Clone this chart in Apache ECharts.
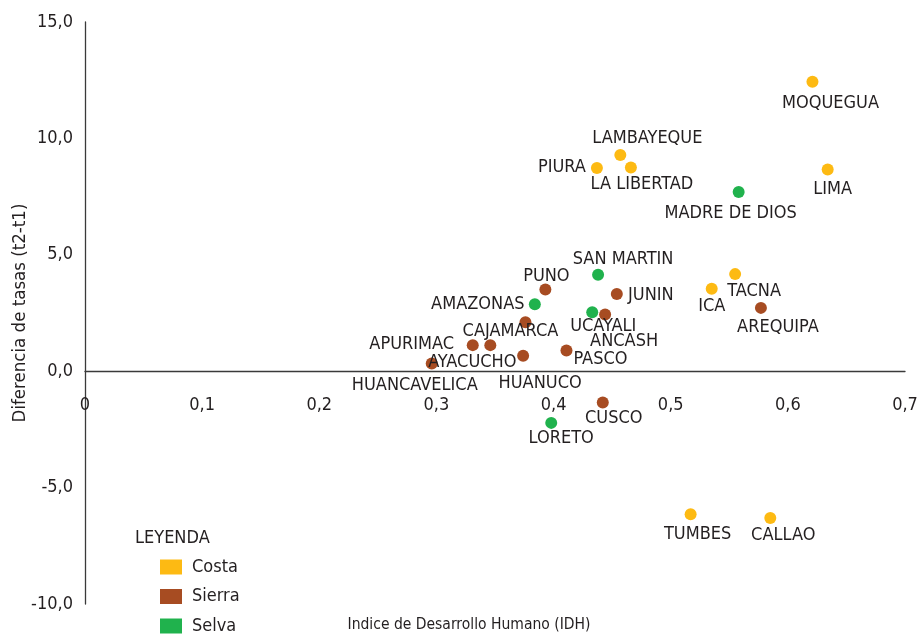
<!DOCTYPE html>
<html>
<head>
<meta charset="utf-8">
<script src="https://cdn.jsdelivr.net/npm/echarts@6/dist/echarts.min.js"></script>
<style>
  html, body { margin: 0; padding: 0; background: #fff; }
  #chart { width: 918px; height: 637px; }
</style>
</head>
<body>
<div id="chart"></div>
<script>
// datos por departamento (IDH vs diferencia de tasas)
var regionNames = ['MOQUEGUA', 'LAMBAYEQUE', 'PIURA', 'LA LIBERTAD', 'LIMA', 'TACNA', 'ICA', 'TUMBES', 'CALLAO',
  'AREQUIPA', 'PUNO', 'JUNIN', 'ANCASH', 'CAJAMARCA', 'APURIMAC', 'AYACUCHO', 'HUANUCO', 'PASCO', 'HUANCAVELICA', 'CUSCO',
  'MADRE DE DIOS', 'SAN MARTIN', 'AMAZONAS', 'UCAYALI', 'LORETO'];
var regionGroup = ['Costa', 'Costa', 'Costa', 'Costa', 'Costa', 'Costa', 'Costa', 'Costa', 'Costa',
  'Sierra', 'Sierra', 'Sierra', 'Sierra', 'Sierra', 'Sierra', 'Sierra', 'Sierra', 'Sierra', 'Sierra', 'Sierra',
  'Selva', 'Selva', 'Selva', 'Selva', 'Selva'];
var idhValues = [0.621, 0.457, 0.437, 0.466, 0.634, 0.555, 0.535, 0.517, 0.585,
  0.577, 0.393, 0.454, 0.444, 0.376, 0.331, 0.346, 0.374, 0.411, 0.296, 0.442,
  0.558, 0.438, 0.384, 0.433, 0.398];
var difValues = [12.43, 9.29, 8.73, 8.75, 8.66, 4.17, 3.54, -6.14, -6.31,
  2.72, 3.51, 3.32, 2.44, 2.10, 1.12, 1.12, 0.66, 0.89, 0.33, -1.34,
  7.70, 4.14, 2.88, 2.53, -2.22];

var groups = ['Costa', 'Sierra', 'Selva'];
var groupColors = { 'Costa': '#fdba13', 'Sierra': '#a74c22', 'Selva': '#20b24d' };

// desplazamiento de cada etiqueta respecto al punto (px)
var labelOffset = {
  'MOQUEGUA': [18, 21], 'LAMBAYEQUE': [27, -17], 'PIURA': [-35, -1], 'LA LIBERTAD': [11, 17],
  'LIMA': [5, 20], 'TACNA': [19, 17], 'ICA': [0, 18], 'TUMBES': [7, 20], 'CALLAO': [13, 17],
  'AREQUIPA': [17, 19], 'PUNO': [1, -13], 'JUNIN': [34, 1], 'ANCASH': [19, 27],
  'CAJAMARCA': [-15, 9], 'APURIMAC': [-61, -1], 'AYACUCHO': [-18, 17], 'HUANUCO': [17, 27],
  'PASCO': [34, 9], 'HUANCAVELICA': [-17, 22], 'CUSCO': [11, 16],
  'MADRE DE DIOS': [-8, 21], 'SAN MARTIN': [25, -15], 'AMAZONAS': [-57, 0], 'UCAYALI': [11, 14], 'LORETO': [10, 15]
};

var fontFam = "'Liberation Sans Narrow', 'DejaVu Sans Condensed', sans-serif";
var txtColor = '#231f20';

function fmtComma(v, dec) {
  return v.toFixed(dec).replace('.', ',');
}

var series = groups.map(function (g) {
  var pts = [];
  for (var i = 0; i < regionNames.length; i++) {
    if (regionGroup[i] !== g) continue;
    pts.push({
      name: regionNames[i],
      value: [idhValues[i], difValues[i]],
      label: { offset: labelOffset[regionNames[i]] }
    });
  }
  return {
    name: g,
    type: 'scatter',
    symbolSize: 12,
    itemStyle: { color: groupColors[g], opacity: 1 },
    label: {
      show: true,
      position: 'inside',
      formatter: '{b}',
      color: txtColor,
      fontFamily: fontFam,
      fontSize: 18
    },
    emphasis: { disabled: true },
    data: pts
  };
});

var gridTop = 22, gridBottom = 33, yMin = -10, yMax = 15;
var plotH = 637 - gridTop - gridBottom;
// eje X dibujado sobre y=0
var xAxisOffset = -plotH * (0 - yMin) / (yMax - yMin);

var chart = echarts.init(document.getElementById('chart'));
chart.setOption({
  animation: false,
  textStyle: { fontFamily: fontFam },
  grid: { left: 85, right: 13, top: gridTop, bottom: gridBottom, containLabel: false, outerBoundsMode: 'none' },
  xAxis: {
    type: 'value',
    min: 0,
    max: 0.7,
    interval: 0.1,
    offset: xAxisOffset,
    splitLine: { show: false },
    axisTick: { show: false },
    axisLine: { onZero: false, lineStyle: { color: '#3a3a3a', width: 1.3 } },
    axisLabel: {
      margin: 25,
      color: txtColor,
      fontSize: 18,
      fontFamily: fontFam,
      formatter: function (v) { return v === 0 ? '0' : fmtComma(v, 1); }
    }
  },
  yAxis: {
    type: 'value',
    min: yMin,
    max: yMax,
    interval: 5,
    splitLine: { show: false },
    axisTick: { show: false },
    axisLine: { show: true, onZero: false, lineStyle: { color: '#3a3a3a', width: 1.3 } },
    axisLabel: {
      margin: 12,
      color: txtColor,
      fontSize: 18,
      fontFamily: fontFam,
      formatter: function (v) { return fmtComma(v, 1); }
    }
  },
  legend: {
    data: groups,
    orient: 'vertical',
    left: 160,
    top: 558,
    height: 100,
    padding: 0,
    icon: 'rect',
    itemWidth: 22,
    itemHeight: 15,
    itemGap: 11.5,
    selectedMode: false,
    textStyle: { color: txtColor, fontSize: 18, fontFamily: fontFam, padding: [0, 0, 0, 5] }
  },
  graphic: [
    {
      type: 'text', left: 135, top: 529,
      style: { text: 'LEYENDA', fill: txtColor, font: '18px ' + fontFam }
    },
    {
      type: 'text', x: 469, y: 625,
      style: { text: 'Indice de Desarrollo Humano (IDH)', fill: txtColor, font: '15.5px ' + fontFam, align: 'center', verticalAlign: 'middle' }
    },
    {
      type: 'text', x: 20, y: 313, rotation: Math.PI / 2,
      style: { text: 'Diferencia de tasas (t2-t1)', fill: txtColor, font: '18.5px ' + fontFam, align: 'center', verticalAlign: 'middle' }
    }
  ],
  series: series
});
</script>
</body>
</html>
